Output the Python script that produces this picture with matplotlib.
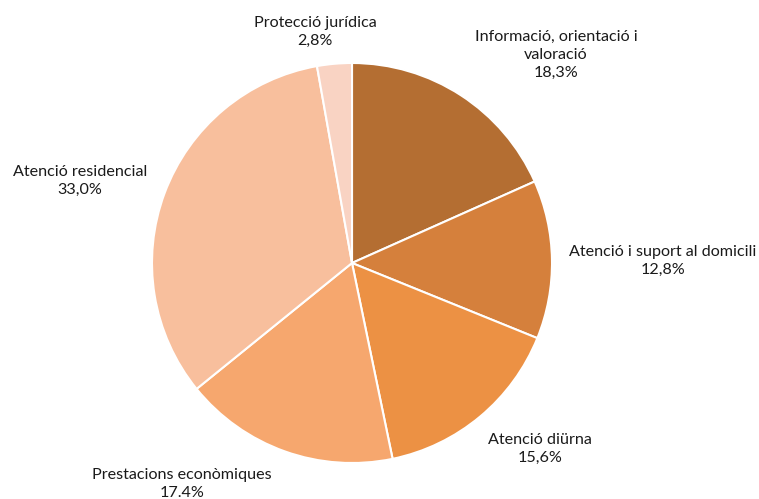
import matplotlib.pyplot as plt

# Distribució de la despesa per àmbit
categories = ["Informació, orientació i\nvaloració", "Atenció i suport al domicili",
              "Atenció diürna", "Prestacions econòmiques",
              "Atenció residencial", "Protecció jurídica"]
values = [18.3, 12.8, 15.6, 17.4, 33.0, 2.8]
pct_labels = ["18,3%", "12,8%", "15,6%", "17.4%", "33,0%", "2,8%"]
colors = ["#B46E32", "#D5803C", "#EC9144", "#F6A76E", "#F8BF9D", "#F9D3C3"]

# label positions in pixels (x, y from top)
label_pos = [(556, 55), (663, 261), (540, 449), (182, 484), (80, 181), (315, 32)]

W, H = 759, 499
fig = plt.figure(figsize=(W / 100, H / 100), dpi=100)
ax = fig.add_axes([0, 0, 1, 1])

ax.pie(values, colors=colors, startangle=90, counterclock=False,
       center=(352, H - 263), radius=200, frame=True,
       wedgeprops=dict(edgecolor="white", linewidth=1.5))
ax.set_xlim(0, W)
ax.set_ylim(0, H)
ax.axis("off")

for cat, pct, (x, y) in zip(categories, pct_labels, label_pos):
    ax.text(x, H - y, cat + "\n" + pct, ha="center", va="center",
            fontsize=11.6, family="Lato", color="#1a1a1a", linespacing=1.35)

fig.savefig("out.png", dpi=100)
